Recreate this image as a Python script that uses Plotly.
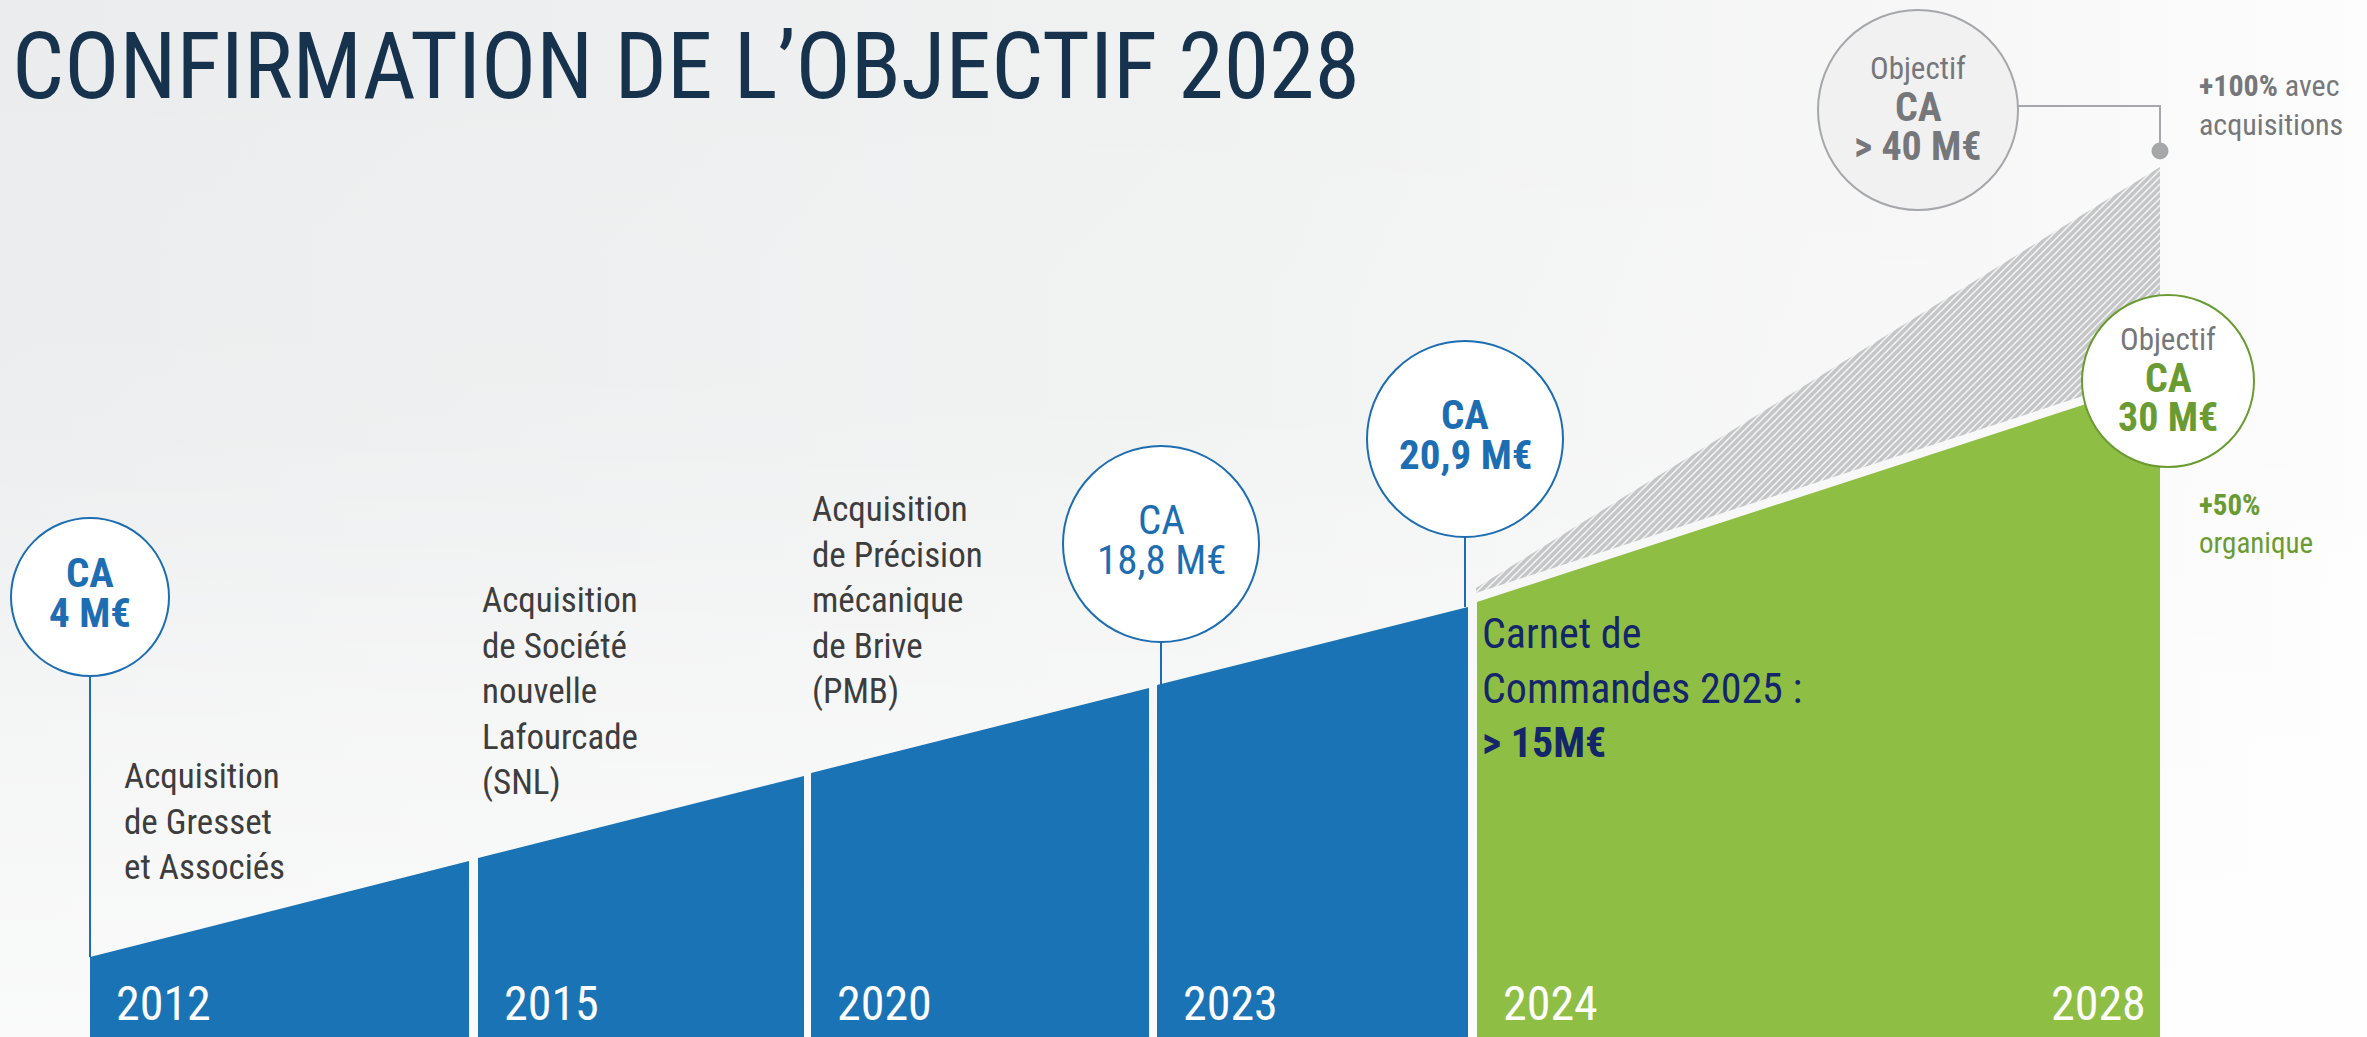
import plotly.graph_objects as go

W, H = 2367, 1037

# ---------------- data ----------------
# timeline segments: horizontal extent on the timeline scale and growth-line height at each end
years = ["2012", "2015", "2020", "2023", "2024"]
final_year = "2028"
seg_start = [90, 478, 811, 1157, 1477]
seg_end = [469, 804, 1149, 1468, 2160]
top_start = [80, 179, 264, 352, 435]
top_end = [176, 261, 349, 430, 657]

# acquisition scenario (hatched band above the organic objective)
acq_x = [1476, 2160]
acq_low = [444, 666]
acq_high = [449, 870]

# acquisitions labels
acq_labels = [
    "Acquisition<br>de Gresset<br>et Associés",
    "Acquisition<br>de Société<br>nouvelle<br>Lafourcade<br>(SNL)",
    "Acquisition<br>de Précision<br>mécanique<br>de Brive<br>(PMB)",
]
acq_label_x = [122, 480, 810]
acq_label_y = [215, 346, 437]

# realised revenue milestones (CA)
ca_values = ["4 M€", "18,8 M€", "20,9 M€"]
ca_bold = [True, False, True]
ca_x = [90, 1161, 1465]
ca_y = [440, 493, 598]
ca_size = [158, 196, 196]

# objectives 2028
obj_values = ["> 40 M€", "30 M€"]
obj_x = [1918, 2168]
obj_y = [927, 656]
obj_size = [200, 172]

# ---------------- styles ----------------
FONT = "Roboto Condensed, Liberation Sans Narrow, Arial Narrow, DejaVu Sans Condensed, Roboto, sans-serif"
BLUE = "#1a73b4"
BLUE_TXT = "#1c6db1"
GREEN = "#8fbe45"
GREEN_TXT = "#6a9b32"
GREY = "#a5a7aa"
GREY_TXT = "#75777b"
NAVY = "#14266a"
TITLE = "#17324d"
LABEL = "#3d3d3d"

fig = go.Figure()

# background gradients
fig.add_trace(go.Scatter(
    x=[0, W, W, 0, 0], y=[0, 0, H, H, 0], mode="lines", line=dict(width=0),
    fill="toself",
    fillgradient=dict(type="horizontal", start=0, stop=W,
                      colorscale=[[0, "#ebeced"], [0.5, "#f0f1f1"], [0.82, "#f7f7f7"], [1, "#fdfdfd"]]),
    hoverinfo="skip"))
fig.add_trace(go.Scatter(
    x=[0, W, W, 0, 0], y=[0, 0, H, H, 0], mode="lines", line=dict(width=0),
    fill="toself",
    fillgradient=dict(type="vertical", start=0, stop=H,
                      colorscale=[[0, "rgba(255,255,255,0.75)"], [0.25, "rgba(255,255,255,0.55)"],
                                  [0.6, "rgba(255,255,255,0.1)"], [1, "rgba(255,255,255,0)"]]),
    hoverinfo="skip"))

# segments
for i in range(len(years)):
    col = GREEN if i == len(years) - 1 else BLUE
    fig.add_trace(go.Scatter(
        x=[seg_start[i], seg_start[i], seg_end[i], seg_end[i], seg_start[i]],
        y=[0, top_start[i], top_end[i], 0, 0],
        mode="lines", line=dict(width=0), fill="toself", fillcolor=col, hoverinfo="skip"))

# hatched acquisitions band
fig.add_trace(go.Scatter(
    x=[acq_x[0], acq_x[1], acq_x[1], acq_x[0], acq_x[0]],
    y=[acq_low[0], acq_low[1], acq_high[1], acq_high[0], acq_low[0]],
    mode="lines", line=dict(width=0), fill="toself", fillcolor="white",
    fillpattern=dict(shape="/", fgcolor="#8a8b8e", bgcolor="#ffffff", size=5, solidity=0.75),
    hoverinfo="skip"))

# connectors from CA circles down to the growth line
ca_anchor = [top_start[0], top_start[3], top_end[3]]
for i in range(len(ca_values)):
    fig.add_trace(go.Scatter(
        x=[ca_x[i], ca_x[i]], y=[ca_y[i] - ca_size[i] / 2, ca_anchor[i]],
        mode="lines", line=dict(color=BLUE_TXT, width=2), hoverinfo="skip"))

# connector of the acquisitions objective
fig.add_trace(go.Scatter(
    x=[obj_x[0] + obj_size[0] / 2, acq_x[1], acq_x[1]],
    y=[obj_y[0] + 4, obj_y[0] + 4, acq_high[1] + 16],
    mode="lines", line=dict(color=GREY, width=2), hoverinfo="skip"))
fig.add_trace(go.Scatter(
    x=[acq_x[1]], y=[acq_high[1] + 16], mode="markers",
    marker=dict(size=17, color=GREY, opacity=1), hoverinfo="skip"))

# CA circles
fig.add_trace(go.Scatter(
    x=ca_x, y=ca_y, mode="markers",
    marker=dict(size=ca_size, color="white", opacity=1, line=dict(color=BLUE_TXT, width=2)),
    hoverinfo="skip"))
# objective circles
fig.add_trace(go.Scatter(
    x=obj_x, y=obj_y, mode="markers",
    marker=dict(size=obj_size, color=["#f1f1f2", "white"], opacity=1,
                line=dict(color=[GREY, "#6a9b32"], width=2)),
    hoverinfo="skip"))

ann = []


def txt(x, y, text, size, color, weight="normal", xanchor="center", yanchor="middle",
        xshift=0, yshift=0, xref="x", yref="y", align="center"):
    ann.append(dict(x=x, y=y, xref=xref, yref=yref, text=text, showarrow=False,
                    xanchor=xanchor, yanchor=yanchor, xshift=xshift, yshift=yshift,
                    align=align,
                    font=dict(family=FONT, size=size, color=color, weight=weight)))


# title
txt(0, 1, "CONFIRMATION DE L’OBJECTIF 2028", 92, TITLE, xanchor="left", yanchor="middle",
    xref="paper", yref="paper", xshift=10, yshift=-66)

# year labels
for i, yr in enumerate(years):
    txt(seg_start[i], 0, yr, 48, "white", xanchor="left", xshift=24, yshift=34)
txt(seg_end[-1], 0, final_year, 48, "white", xanchor="right", xshift=-12, yshift=34)

# acquisition labels
for i, lab in enumerate(acq_labels):
    txt(acq_label_x[i], acq_label_y[i], lab, 35, LABEL, xanchor="left", align="left")

# CA circles text
for i in range(len(ca_values)):
    w = "bold" if ca_bold[i] else "normal"
    txt(ca_x[i], ca_y[i], "CA", 41, BLUE_TXT, weight=w, yshift=24)
    txt(ca_x[i], ca_y[i], ca_values[i], 41, BLUE_TXT, weight=w, yshift=-16)

# objectives text
obj_colors = [GREY_TXT, GREEN_TXT]
for i in range(len(obj_values)):
    txt(obj_x[i], obj_y[i], "Objectif", 31, GREY_TXT, yshift=42)
    txt(obj_x[i], obj_y[i], "CA", 40, obj_colors[i], weight="bold", yshift=3)
    txt(obj_x[i], obj_y[i], obj_values[i], 40, obj_colors[i], weight="bold", yshift=-36)

# side notes
txt(2197, 0, "<b>+100%</b> avec<br>acquisitions", 30, GREY_TXT, xanchor="left", align="left",
    xref="x", yref="y", yshift=H - 105)
txt(2197, 0, "<b>+50%</b><br>organique", 29, GREEN_TXT, xanchor="left", align="left",
    xref="x", yref="y", yshift=H - 524)

# order book
txt(seg_start[-1], 0, "Carnet de<br>Commandes 2025 :<br><b>&gt; 15M€</b>", 42, NAVY,
    xanchor="left", align="left", xshift=3, yshift=H - 688)

fig.update_layout(
    width=W, height=H, margin=dict(l=0, r=0, t=0, b=0, pad=0),
    paper_bgcolor="white", plot_bgcolor="white", showlegend=False,
    xaxis=dict(range=[0, W], visible=False, fixedrange=True),
    yaxis=dict(range=[0, H], visible=False, fixedrange=True),
    annotations=ann, hovermode=False,
)

fig.write_html("out.html", config={"displayModeBar": False},
               post_script="document.body.style.margin='0';document.body.style.overflow='hidden';")
